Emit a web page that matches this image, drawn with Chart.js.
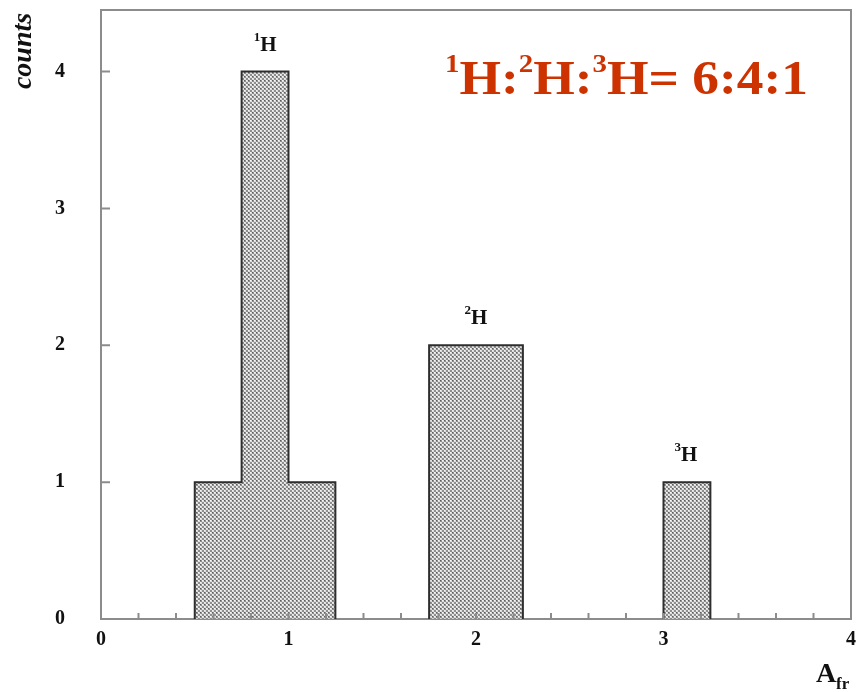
<!DOCTYPE html>
<html>
<head>
<meta charset="utf-8">
<title>counts vs A_fr</title>
<script src="https://cdn.jsdelivr.net/npm/chart.js@4.4.1/dist/chart.umd.min.js"></script>
<style>
  html, body { margin: 0; padding: 0; background: #fff; }
  #wrap { position: relative; width: 856px; height: 692px; }
</style>
</head>
<body>
<div id="wrap"><canvas id="massChart"></canvas></div>
<script>
// histogram bins (left edge) and counts
var binStarts = [0.5, 0.75, 1.0, 1.75, 2.0, 3.0];
var binWidth = 0.25;
var counts = [1, 4, 1, 2, 2, 1];

var xTicks = [0, 1, 2, 3, 4];
var yTicks = [0, 1, 2, 3, 4];

// peak labels (isotope mass number, x position, peak height)
var peakMass = ["1", "2", "3"];
var peakX = [0.875, 2.0, 3.12];
var peakY = [4, 2, 1];

var ratioText = ["1", "H:", "2", "H:", "3", "H= 6:4:1"]; // superscript / normal, alternating

document.addEventListener("DOMContentLoaded", function() {
  var canvas = document.getElementById("massChart");
  var ctx = canvas.getContext("2d");

  var serif = "'Liberation Serif', 'Times New Roman', serif";
  var frameColor = "#8c8c8c";

  // dotted grey fill like the printed histogram
  var tile = document.createElement("canvas");
  tile.width = 4;
  tile.height = 4;
  var tctx = tile.getContext("2d");
  for (var px = 0; px < 4; px++) {
    for (var py = 0; py < 4; py++) {
      var cell = (Math.floor(px / 2) + Math.floor(py / 2)) % 2;
      var c = cell === 0 ? "#8e8e8e" : "#dedede";
      if (px === 0 && py === 0) c = "#5e5e5e";
      if (px === 2 && py === 0) c = "#f8f8f8";
      if (px === 0 && py === 2) c = "#f2f2f2";
      tctx.fillStyle = c;
      tctx.fillRect(px, py, 1, 1);
    }
  }
  var hatch = ctx.createPattern(tile, "repeat");

  var points = binStarts.map(function(s, i) {
    return { x: s + binWidth / 2, y: counts[i] };
  });

  var decorPlugin = {
    id: "decor",
    afterDatasetsDraw: function(chart) {
      var c = chart.ctx;
      var xs = chart.scales.x;
      var ys = chart.scales.y;
      var area = chart.chartArea;
      var y0 = ys.getPixelForValue(0);

      // step outline of the histogram
      c.save();
      c.strokeStyle = "#2e2e2e";
      c.lineWidth = 2;
      c.beginPath();
      for (var i = 0; i < binStarts.length; i++) {
        var l = xs.getPixelForValue(binStarts[i]);
        var r = xs.getPixelForValue(binStarts[i] + binWidth);
        var top = ys.getPixelForValue(counts[i]);
        var joined = i > 0 && Math.abs(binStarts[i - 1] + binWidth - binStarts[i]) < 1e-9;
        if (!joined) c.moveTo(l, y0);
        c.lineTo(l, top);
        c.lineTo(r, top);
        var next = i < binStarts.length - 1 && Math.abs(binStarts[i] + binWidth - binStarts[i + 1]) < 1e-9;
        if (!next) c.lineTo(r, y0);
      }
      c.stroke();
      c.restore();

      // frame top and right + inward ticks
      c.save();
      c.strokeStyle = frameColor;
      c.lineWidth = 2;
      c.beginPath();
      c.moveTo(area.left, area.top);
      c.lineTo(area.right, area.top);
      c.lineTo(area.right, area.bottom);
      for (var v = 0; v <= 4.0001; v += 0.2) {
        var tx = xs.getPixelForValue(v);
        c.moveTo(tx, area.bottom);
        c.lineTo(tx, area.bottom - 6);
      }
      yTicks.forEach(function(t) {
        var ty = ys.getPixelForValue(t);
        c.moveTo(area.left, ty);
        c.lineTo(area.left + 9, ty);
      });
      c.stroke();
      c.restore();

      // peak labels
      c.save();
      c.fillStyle = "#111";
      c.textBaseline = "alphabetic";
      peakMass.forEach(function(m, i) {
        c.font = "bold 13px " + serif;
        var wSup = c.measureText(m).width;
        c.font = "bold 21px " + serif;
        var wH = c.measureText("H").width;
        var cx = xs.getPixelForValue(peakX[i]);
        var base = ys.getPixelForValue(peakY[i]) - 21;
        var left = cx - (wSup + wH) / 2;
        c.textAlign = "left";
        c.font = "bold 13px " + serif;
        c.fillText(m, left, base - 10);
        c.font = "bold 21px " + serif;
        c.fillText("H", left + wSup, base);
      });
      c.restore();

      // axis titles
      c.save();
      c.fillStyle = "#111";
      c.font = "italic bold 28px " + serif;
      c.translate(31, 51);
      c.rotate(-Math.PI / 2);
      c.textAlign = "center";
      c.textBaseline = "alphabetic";
      c.fillText("counts", 0, 0);
      c.restore();

      c.save();
      c.fillStyle = "#111";
      c.textAlign = "left";
      c.textBaseline = "alphabetic";
      c.font = "bold 28px " + serif;
      c.fillText("A", 816, 682);
      c.font = "bold 17px " + serif;
      c.fillText("fr", 836, 689);
      c.restore();

      // red ratio annotation
      c.save();
      c.fillStyle = "#cc3300";
      c.textAlign = "left";
      c.textBaseline = "alphabetic";
      var total = 0;
      ratioText.forEach(function(s, i) {
        c.font = (i % 2 === 0 ? "bold 26px " : "bold 48px ") + serif;
        total += c.measureText(s).width;
      });
      var sx = 363 / total;
      c.translate(445, 94);
      c.scale(sx, 1);
      var x = 0;
      ratioText.forEach(function(s, i) {
        var sup = i % 2 === 0;
        c.font = (sup ? "bold 26px " : "bold 48px ") + serif;
        c.fillText(s, x, sup ? -22 : 0);
        x += c.measureText(s).width;
      });
      c.restore();
    }
  };

  new Chart(ctx, {
    type: "bar",
    data: {
      datasets: [{
        data: points,
        backgroundColor: hatch,
        borderWidth: 0,
        barPercentage: 1.0,
        categoryPercentage: 1.0
      }]
    },
    options: {
      responsive: true,
      maintainAspectRatio: false,
      animation: false,
      layout: { padding: { top: 10, right: 5, left: 0, bottom: 0 } },
      plugins: {
        legend: { display: false },
        tooltip: { enabled: false }
      },
      scales: {
        x: {
          type: "linear",
          offset: false,
          min: 0,
          max: 4,
          afterFit: function(scale) {
            scale.height = 73;
            scale.paddingLeft = 0;
            scale.paddingRight = 0;
          },
          afterBuildTicks: function(scale) {
            scale.ticks = xTicks.map(function(v) { return { value: v }; });
          },
          ticks: {
            color: "#111",
            padding: 9,
            maxRotation: 0,
            font: { family: serif, size: 20, weight: "bold" }
          },
          grid: { display: true, drawOnChartArea: false, drawTicks: false, offset: false },
          border: { display: true, color: frameColor, width: 2 }
        },
        y: {
          type: "linear",
          min: 0,
          max: 4.45,
          afterFit: function(scale) {
            scale.width = 101;
            scale.paddingTop = 0;
            scale.paddingBottom = 0;
          },
          afterBuildTicks: function(scale) {
            scale.ticks = yTicks.map(function(v) { return { value: v }; });
          },
          ticks: {
            color: "#111",
            padding: 36,
            font: { family: serif, size: 20, weight: "bold" }
          },
          grid: { display: true, drawOnChartArea: false, drawTicks: false },
          border: { display: true, color: frameColor, width: 2 }
        }
      }
    },
    plugins: [decorPlugin]
  });
});
</script>
</body>
</html>
